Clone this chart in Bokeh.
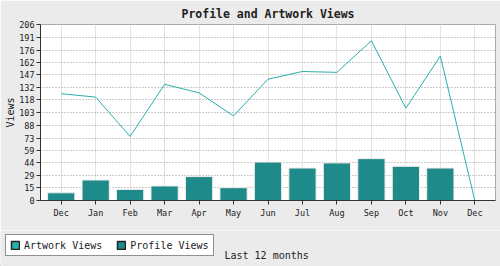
from bokeh.plotting import figure
from bokeh.models import ColumnDataSource, FixedTicker, Legend, LegendItem, Range1d, Label
from bokeh.layouts import column
from bokeh.embed import file_html
from bokeh.resources import INLINE

months = ["Dec", "Jan", "Feb", "Mar", "Apr", "May", "Jun", "Jul", "Aug", "Sep", "Oct", "Nov", "Dec"]
profile_views = [9, 24, 13, 17, 28, 15, 45, 38, 44, 49, 40, 38, 0]
artwork_views = [125, 121, 75, 136, 126, 99, 142, 151, 150, 187, 108, 169, 0]
y_ticks = [0, 15, 29, 44, 59, 73, 88, 103, 118, 132, 147, 162, 176, 191, 206]

FONT = "DejaVu Sans Mono"
BAR = "#1e8a8a"
LINE = "#2aafaf"
BG = "#ebebeb"
INK = "#222222"

xs = list(range(len(months)))
src = ColumnDataSource(dict(x=xs, profile=profile_views, artwork=artwork_views))

p = figure(width=500, height=230, output_backend="svg", toolbar_location=None,
           x_range=Range1d(-0.6, len(months) - 0.4), y_range=Range1d(0, 206),
           min_border_left=40, min_border_right=5, min_border_top=2, min_border_bottom=30,
           background_fill_color="white", border_fill_color=BG,
           title="Profile and Artwork Views")
p.frame_align = False

p.title.align = "center"
p.title.text_font = FONT
p.title.text_font_size = "11.5px"
p.title.text_font_style = "bold"
p.title.text_color = INK
p.title.standoff = 8

p.outline_line_color = "#aaaaaa"
p.outline_line_width = 1

p.vbar(x="x", top="profile", width=0.79, source=src, fill_color=BAR,
       line_color="#f3ecec", line_width=1)
p.line(x="x", y="artwork", source=src, line_color=LINE, line_width=1)

p.xaxis.ticker = FixedTicker(ticks=xs)
p.xaxis.major_label_overrides = {i: m for i, m in enumerate(months)}
p.yaxis.ticker = FixedTicker(ticks=y_ticks)
for ax in (p.xaxis, p.yaxis):
    ax.axis_line_color = "#333333"
    ax.major_tick_line_color = "#333333"
    ax.major_tick_out = 4
    ax.major_tick_in = 0
    ax.minor_tick_line_color = None
    ax.major_label_text_font = FONT
    ax.major_label_text_font_size = "8.5px"
    ax.major_label_text_color = INK
    ax.axis_label_text_font = FONT
    ax.axis_label_text_font_style = "normal"
    ax.axis_label_text_font_size = "10px"
    ax.axis_label_text_color = INK
p.xaxis.major_label_standoff = 3
p.yaxis.major_label_standoff = 2
p.yaxis.axis_label = "Views"
p.yaxis.axis_label_standoff = 0

p.xgrid.grid_line_color = "#e4e4e4"
p.xgrid.grid_line_width = 1
p.ygrid.grid_line_color = "#999999"
p.ygrid.grid_line_dash = "1 2"

# bottom strip with legend and caption
q = figure(width=500, height=36, output_backend="svg", toolbar_location=None,
           x_range=Range1d(0, 500), y_range=Range1d(0, 36),
           x_axis_location=None, y_axis_location=None,
           min_border_left=0, min_border_right=0, min_border_top=0, min_border_bottom=0,
           background_fill_color=BG, border_fill_color=BG,
           outline_line_color=None)
q.frame_align = False
q.grid.visible = False

# legend swatch renderers (a single point kept outside the visible range)
sw_a = q.vbar(x=[-100], top=[-100], width=1, fill_color=LINE, line_color=INK, line_width=1.5)
sw_p = q.vbar(x=[-100], top=[-100], width=1, fill_color=BAR, line_color=INK, line_width=1.5)
legend = Legend(items=[LegendItem(label="Artwork Views", renderers=[sw_a]),
                       LegendItem(label="Profile Views", renderers=[sw_p])],
                orientation="horizontal", location=(5, 10),
                label_text_font=FONT, label_text_font_size="10px", label_text_color=INK,
                label_height=12,
                glyph_width=10, glyph_height=10, spacing=14, padding=4, margin=0,
                label_standoff=4,
                border_line_color=INK, border_line_width=1.5,
                background_fill_color="white", background_fill_alpha=1)
q.add_layout(legend, "center")
q.add_layout(Label(x=224, y=11, x_units="screen", y_units="screen", text="Last 12 months",
                   text_font=FONT, text_font_size="10px", text_color=INK,
                   text_baseline="middle", text_align="left"))

open("out.html", "w").write(file_html(column(p, q, spacing=0), INLINE))
